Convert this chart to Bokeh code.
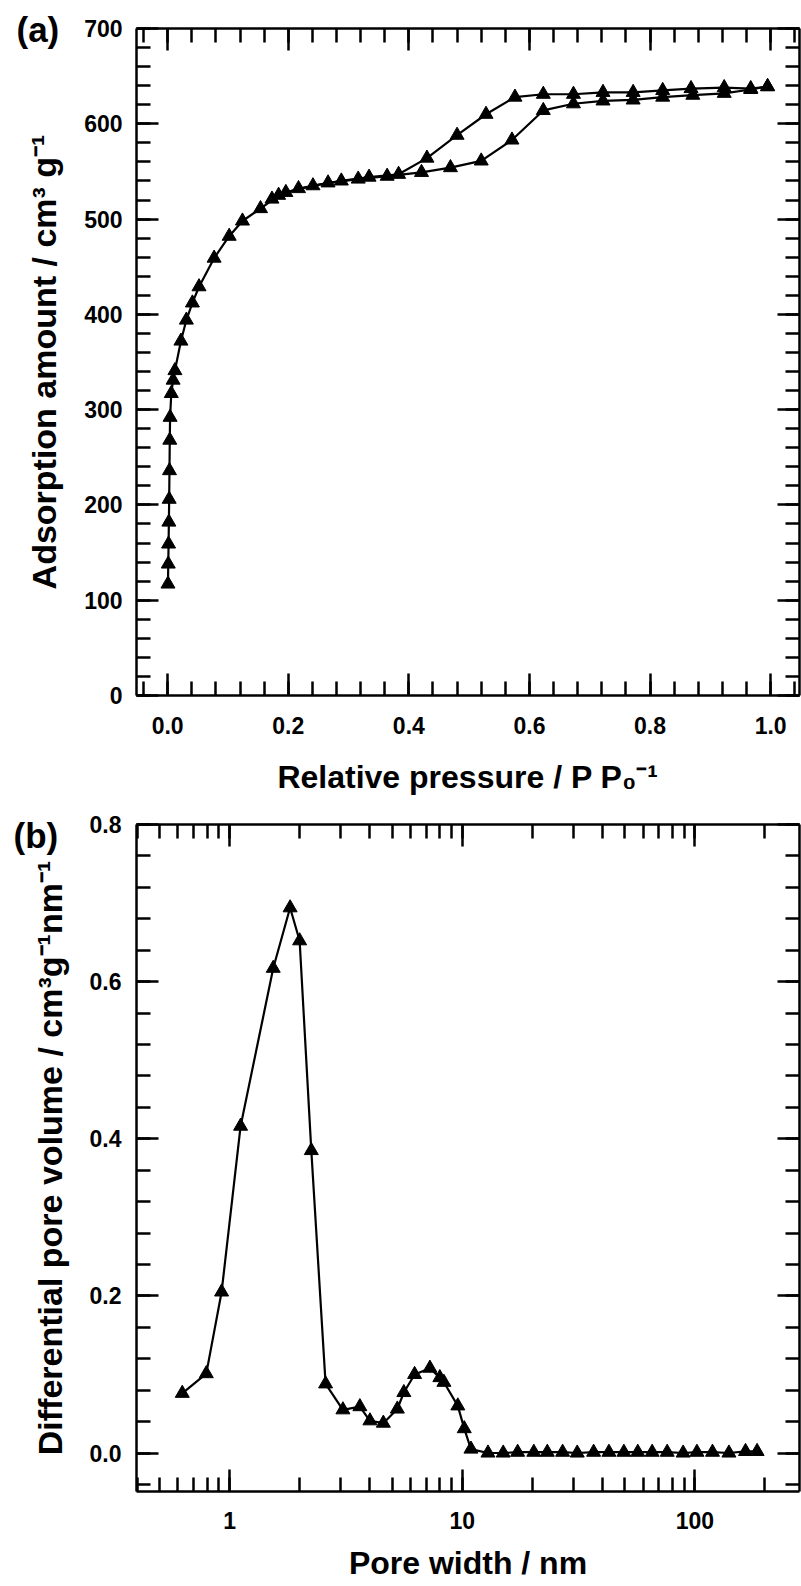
from bokeh.plotting import figure
from bokeh.layouts import column
from bokeh.models import (LinearAxis, LogAxis, SingleIntervalTicker, LogTicker,
                          PrintfTickFormatter, CustomJSTickFormatter, Range1d, Title)
from bokeh.embed import file_html
from bokeh.resources import INLINE

# ---------------- data: (a) N2 isotherm ----------------
ads_p = [0.0005, 0.001, 0.0015, 0.002, 0.0025, 0.003, 0.0035, 0.004, 0.006, 0.009,
         0.012, 0.022, 0.031, 0.041, 0.052, 0.077, 0.102, 0.124, 0.154, 0.184,
         0.217, 0.266, 0.316, 0.364, 0.421, 0.469, 0.520, 0.571, 0.623, 0.673,
         0.722, 0.772, 0.821, 0.871, 0.923, 0.967, 0.995]
ads_v = [117, 138, 159, 182, 206, 236, 268, 292, 317, 331,
         341, 372, 394, 412, 429, 459, 482, 498, 511, 525,
         532, 538, 542, 545, 549, 554, 561, 583, 614, 621,
         624, 625, 628, 630, 632, 636, 639]
des_p = [0.995, 0.967, 0.923, 0.868, 0.821, 0.772, 0.722, 0.673, 0.623, 0.576,
         0.528, 0.480, 0.430, 0.383, 0.334, 0.288, 0.241, 0.196, 0.173]
des_v = [639, 637, 638, 637, 635, 633, 633, 631, 631, 628,
         610, 588, 564, 547, 544, 540, 535, 528, 521]

# ---------------- data: (b) pore size distribution ----------------
pore_w = [0.626, 0.794, 0.924, 1.115, 1.54, 1.82, 2.00, 2.245, 2.586, 3.07,
          3.63, 4.01, 4.58, 5.26, 5.61, 6.24, 7.26, 8.01, 8.34, 9.57,
          10.2, 10.9, 12.9, 15.0, 17.3, 20.3, 23.2, 27.0, 31.2, 36.7,
          42.7, 49.5, 56.8, 65.5, 76.0, 89.0, 102, 119, 140, 165, 185]
pore_dv = [0.076, 0.101, 0.205, 0.416, 0.617, 0.694, 0.652, 0.385, 0.088, 0.055,
           0.059, 0.041, 0.038, 0.056, 0.077, 0.100, 0.108, 0.096, 0.090, 0.060,
           0.031, 0.005, 0.000, 0.000, 0.001, 0.001, 0.001, 0.001, 0.000, 0.001,
           0.001, 0.001, 0.001, 0.001, 0.001, 0.000, 0.001, 0.001, 0.000, 0.002, 0.002]

FONT = "Liberation Sans"


def style_axis(ax, show_labels=True):
    ax.axis_line_width = 2.5
    ax.axis_line_color = "black"
    ax.major_tick_in = 22
    ax.major_tick_out = 0
    ax.minor_tick_in = 14
    ax.minor_tick_out = 0
    ax.major_tick_line_width = 2.5
    ax.minor_tick_line_width = 2.5
    ax.major_tick_line_color = "black"
    ax.minor_tick_line_color = "black"
    ax.major_label_text_font = FONT
    ax.major_label_text_font_style = "bold"
    ax.major_label_text_font_size = "23px"
    ax.major_label_text_color = "black"
    ax.axis_label_text_font = FONT
    ax.axis_label_text_font_style = "bold"
    ax.axis_label_text_color = "black"
    if not show_labels:
        ax.formatter = CustomJSTickFormatter(code="return ''")
        ax.major_label_standoff = 0
        ax.axis_label_standoff = 0
        ax.major_label_text_font_size = "0px"


def panel_tag(text, offset, standoff):
    return Title(text=text, align="left", offset=offset, standoff=standoff,
                 vertical_align="bottom", text_font=FONT, text_font_style="bold",
                 text_font_size="35px", text_color="black")


# ================= panel (a) =================
p1 = figure(width=801, height=805, output_backend="svg", toolbar_location=None,
            x_range=Range1d(-0.0517, 1.0479), y_range=Range1d(0, 700),
            min_border_left=133, min_border_right=2, min_border_top=28,
            min_border_bottom=110)
p1.outline_line_color = None
p1.grid.visible = False

xt1 = SingleIntervalTicker(interval=0.2, num_minor_ticks=5)
yt1 = SingleIntervalTicker(interval=100, num_minor_ticks=5)
p1.xaxis.ticker = xt1
p1.yaxis.ticker = yt1
p1.xaxis.formatter = PrintfTickFormatter(format="%.1f")
for ax in p1.xaxis + p1.yaxis:
    style_axis(ax)
p1.xaxis.major_label_standoff = 21
p1.yaxis.major_label_standoff = 14
p1.xaxis.axis_label = "Relative pressure / P P\u2080\u207b\u00b9"
p1.xaxis.axis_label_text_font_size = "32px"
p1.xaxis.axis_label_standoff = 22
p1.yaxis.axis_label = "Adsorption amount / cm\u00b3 g\u207b\u00b9"
p1.yaxis.axis_label_text_font_size = "34px"
p1.yaxis.axis_label_standoff = 18

top1 = LinearAxis(ticker=xt1)
style_axis(top1, show_labels=False)
p1.add_layout(top1, "above")
right1 = LinearAxis(ticker=yt1)
style_axis(right1, show_labels=False)
p1.add_layout(right1, "right")

p1.line(ads_p, ads_v, line_color="black", line_width=2.2)
p1.line(des_p, des_v, line_color="black", line_width=2.2)
p1.scatter(ads_p, ads_v, marker="triangle", size=14, fill_color="black", line_color="black")
p1.scatter(des_p, des_v, marker="triangle", size=14, fill_color="black", line_color="black")

p1.add_layout(panel_tag("(a)", -120, -40), "above")

# ================= panel (b) =================
p2 = figure(width=801, height=780, output_backend="svg", toolbar_location=None,
            x_axis_type="log",
            x_range=Range1d(0.398, 281.5), y_range=Range1d(-0.049, 0.8),
            min_border_left=136, min_border_right=2, min_border_top=19,
            min_border_bottom=94)
p2.outline_line_color = None
p2.grid.visible = False

xt2 = LogTicker(num_minor_ticks=10)
yt2 = SingleIntervalTicker(interval=0.2, num_minor_ticks=5)
p2.xaxis.ticker = xt2
p2.yaxis.ticker = yt2
p2.xaxis.formatter = PrintfTickFormatter(format="%d")
p2.yaxis.formatter = PrintfTickFormatter(format="%.1f")
for ax in p2.xaxis + p2.yaxis:
    style_axis(ax)
p2.xaxis.major_label_standoff = 20
p2.yaxis.major_label_standoff = 15
p2.xaxis.axis_label = "Pore width / nm"
p2.xaxis.axis_label_text_font_size = "32px"
p2.xaxis.axis_label_standoff = 13
p2.yaxis.axis_label = "Differential pore volume / cm\u00b3g\u207b\u00b9nm\u207b\u00b9"
p2.yaxis.axis_label_text_font_size = "34px"
p2.yaxis.axis_label_standoff = 18

top2 = LogAxis(ticker=xt2)
style_axis(top2, show_labels=False)
p2.add_layout(top2, "above")
right2 = LinearAxis(ticker=yt2)
style_axis(right2, show_labels=False)
p2.add_layout(right2, "right")

p2.line(pore_w, pore_dv, line_color="black", line_width=2.2)
p2.scatter(pore_w, pore_dv, marker="triangle", size=14, fill_color="black", line_color="black")

p2.add_layout(panel_tag("(b)", -123, -60), "above")

layout = column(p1, p2, spacing=0)
open("out.html", "w").write(file_html(layout, INLINE))
